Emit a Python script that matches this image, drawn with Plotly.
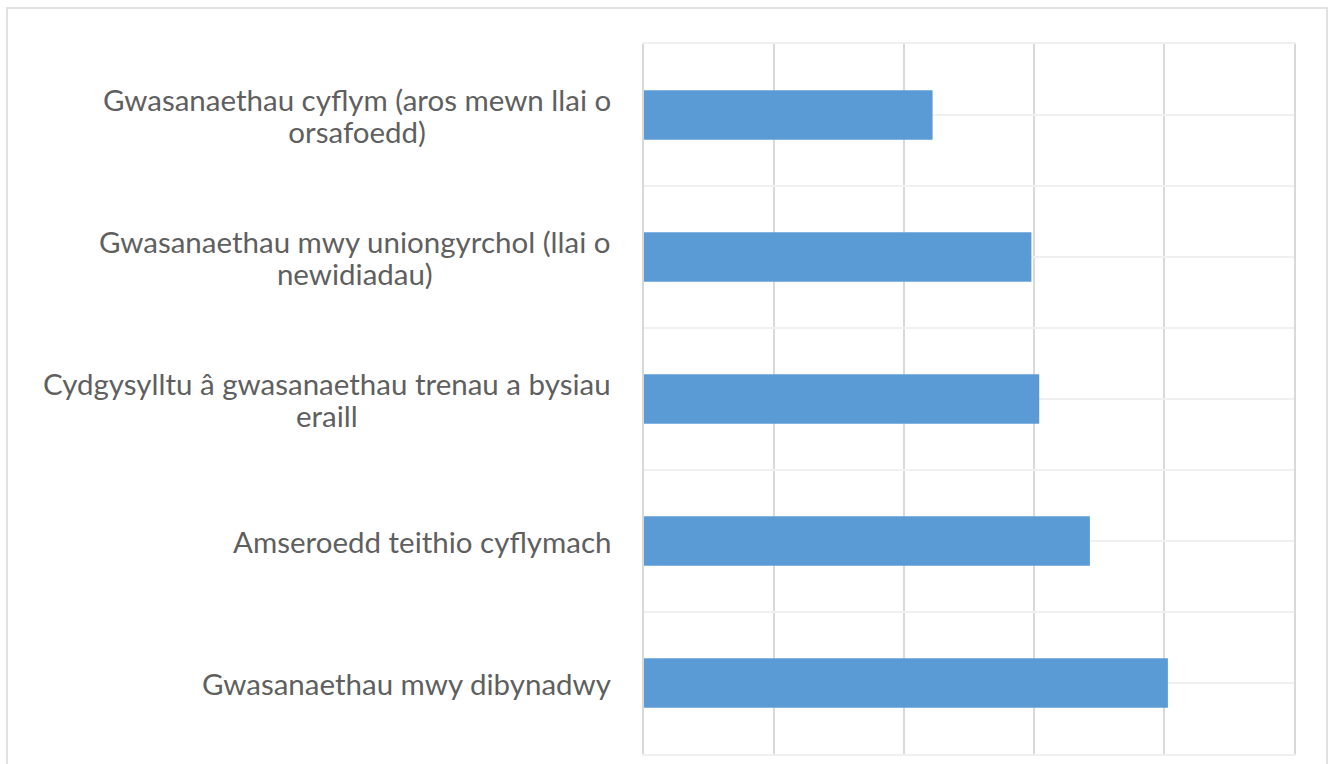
import plotly.graph_objects as go

# categories listed top to bottom, as in the chart
categories = [
    'Gwasanaethau cyflym (aros mewn llai o<br>orsafoedd)',
    'Gwasanaethau mwy uniongyrchol (llai o<br>newidiadau)',
    'Cydgysylltu â gwasanaethau trenau a bysiau<br>eraill',
    'Amseroedd teithio cyflymach',
    'Gwasanaethau mwy dibynadwy',
]
values = [22.2, 29.8, 30.4, 34.3, 40.3]

bar_color = '#5b9bd5'
grid_v = '#d9d9d9'
grid_h = '#f0f0f0'
text_grey = '#5f5f5f'

fig = go.Figure()

fig.add_trace(go.Bar(
    x=values,
    y=categories,
    orientation='h',
    marker=dict(color=bar_color, line=dict(width=0)),
    hoverinfo='x+y',
))

# invisible copy on a second y axis, only so its grid marks the category centres
fig.add_trace(go.Scatter(
    x=values,
    y=categories,
    yaxis='y2',
    mode='markers',
    marker=dict(opacity=0),
    hoverinfo='skip',
    showlegend=False,
))

# labels as annotations so wrapped lines are centred;
# small base size keeps line spacing tight, the span sets the visible size
span = '<span style="font-size:29.5px">'
for cat in categories:
    fig.add_annotation(
        x=0, xref='paper', y=cat, yref='y',
        text=span + cat.replace('<br>', '</span><br>' + span) + '</span>',
        showarrow=False,
        xanchor='right', yanchor='middle', align='center',
        xshift=-31,
        font=dict(family='Lato', size=24.6, color=text_grey),
    )

fig.update_layout(
    width=1333,
    height=764,
    margin=dict(l=644, r=39, t=44, b=10),
    paper_bgcolor='white',
    plot_bgcolor='white',
    bargap=0.65,
    showlegend=False,
    xaxis=dict(
        range=[0, 50],
        dtick=10,
        showgrid=True,
        gridcolor=grid_v,
        gridwidth=1.5,
        zeroline=False,
        showticklabels=False,
        showline=True,
        linecolor=grid_h,
        linewidth=1.5,
        mirror=True,
        fixedrange=True,
    ),
    yaxis=dict(
        type='category',
        categoryarray=categories,
        range=[4.5, -0.5],
        tickson='boundaries',
        showgrid=True,
        gridcolor=grid_h,
        gridwidth=1.5,
        showticklabels=False,
        ticks='',
        zeroline=False,
        showline=True,
        linecolor=grid_v,
        linewidth=1.5,
        mirror=True,
    ),
    yaxis2=dict(
        type='category',
        categoryarray=categories,
        range=[4.5, -0.5],
        overlaying='y',
        showgrid=True,
        gridcolor=grid_h,
        gridwidth=1.5,
        showticklabels=False,
        ticks='',
        zeroline=False,
        showline=False,
    ),
    shapes=[dict(
        type='rect', xref='paper', yref='paper',
        x0=-0.98, x1=1.0508, y0=-0.05, y1=1.0507,
        line=dict(color=grid_v, width=1.5),
        fillcolor='rgba(0,0,0,0)',
        layer='below',
    )],
)

fig.write_html('out.html', config={'displayModeBar': False},
               post_script="document.body.style.margin='0';")
